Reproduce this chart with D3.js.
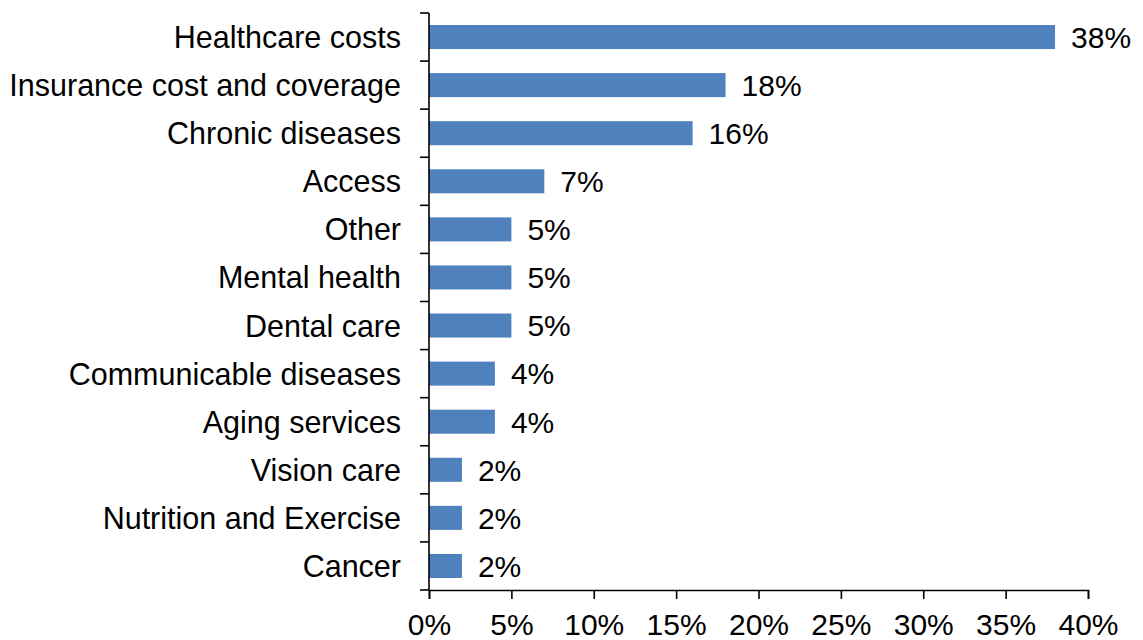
<!DOCTYPE html>
<html>
<head>
<meta charset="utf-8">
<script src="https://cdn.jsdelivr.net/npm/d3@7"></script>
<style>
  html, body { margin: 0; padding: 0; background: #fff; }
  svg { display: block; }
  text { font-family: "Liberation Sans", Arial, sans-serif; fill: #000; }
</style>
</head>
<body>
<svg id="chart" width="1143" height="640"></svg>
<script>
const categories = ["Healthcare costs", "Insurance cost and coverage", "Chronic diseases", "Access", "Other",
  "Mental health", "Dental care", "Communicable diseases", "Aging services", "Vision care",
  "Nutrition and Exercise", "Cancer"];
const values = [38, 18, 16, 7, 5, 5, 5, 4, 4, 2, 2, 2];
const xTicks = [0, 5, 10, 15, 20, 25, 30, 35, 40];

const svg = d3.select("#chart");
const plotLeft = 429, plotRight = 1088, plotTop = 13, plotBottom = 590;

const x = d3.scaleLinear().domain([0, 40]).range([plotLeft, plotRight]);
const y = d3.scaleBand().domain(categories).range([plotTop, plotBottom]).paddingInner(0.5).paddingOuter(0.25);

// bars
svg.append("g").selectAll("rect").data(categories).join("rect")
  .attr("x", x(0))
  .attr("y", d => y(d))
  .attr("width", (d, i) => x(values[i]) - x(0))
  .attr("height", y.bandwidth())
  .attr("fill", "#4F81BD");

// value labels
svg.append("g").selectAll("text").data(categories).join("text")
  .attr("x", (d, i) => x(values[i]) + 16)
  .attr("y", d => y(d) + y.bandwidth() / 2)
  .attr("dy", "0.36em")
  .attr("font-size", "30px")
  .text((d, i) => values[i] + "%");

// x axis
const xAxis = svg.append("g").attr("transform", `translate(0,${plotBottom})`)
  .call(d3.axisBottom(x).tickValues(xTicks).tickFormat(d => d + "%").tickSize(9).tickPadding(15));
xAxis.select(".domain").attr("stroke", "#000").attr("stroke-width", 1.6);
xAxis.selectAll(".tick line").attr("stroke", "#000").attr("stroke-width", 1.6);
xAxis.selectAll(".tick text").attr("font-size", "30px").attr("font-family", "Liberation Sans, Arial, sans-serif").attr("fill", "#000");

// y axis: line + ticks at band boundaries
const step = y.step();
const yAxis = svg.append("g");
yAxis.append("line").attr("x1", plotLeft).attr("x2", plotLeft).attr("y1", plotTop).attr("y2", plotBottom)
  .attr("stroke", "#000").attr("stroke-width", 1.6);
const boundaries = d3.range(categories.length + 1).map(i => y(categories[0]) - y.paddingOuter() * step + i * step);
yAxis.selectAll("line.tk").data(boundaries).join("line").attr("class", "tk")
  .attr("x1", plotLeft - 9).attr("x2", plotLeft).attr("y1", d => d).attr("y2", d => d)
  .attr("stroke", "#000").attr("stroke-width", 1.6);
yAxis.selectAll("text").data(categories).join("text")
  .attr("x", plotLeft - 28)
  .attr("y", d => y(d) + y.bandwidth() / 2)
  .attr("dy", "0.36em")
  .attr("text-anchor", "end")
  .attr("font-size", "30.5px")
  .text(d => d);
</script>
</body>
</html>
